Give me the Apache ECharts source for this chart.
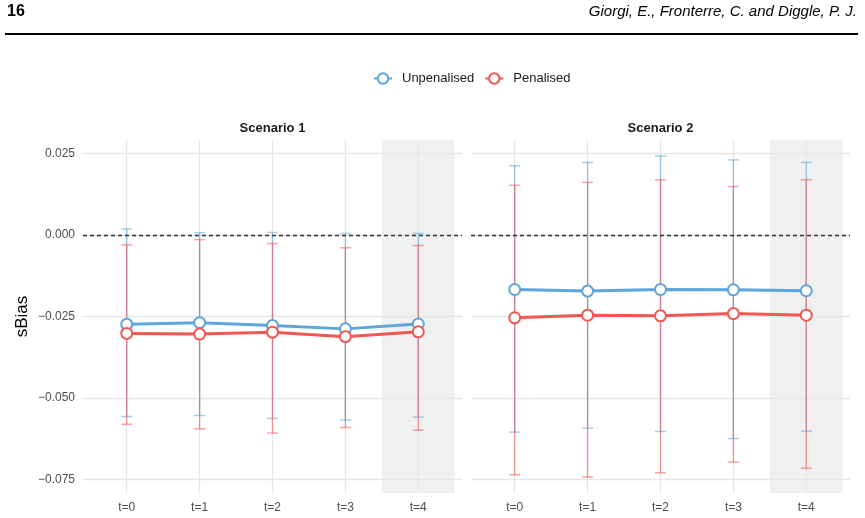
<!DOCTYPE html>
<html>
<head>
<meta charset="utf-8">
<script src="https://cdn.jsdelivr.net/npm/echarts@6/dist/echarts.min.js"></script>
<style>
  html, body { margin: 0; padding: 0; background: #fff; }
  #main { width: 865px; height: 518px; }
</style>
</head>
<body>
<div id="main"></div>
<script>
const categories = ['t=0', 't=1', 't=2', 't=3', 't=4'];
const xTicks = [0, 1, 2, 3, 4];
const yTicks = [-0.075, -0.05, -0.025, 0, 0.025];

// Scenario 1
const s1Unpen = [-0.0274, -0.0269, -0.0278, -0.0288, -0.0273];
const s1UnpenLow = [-0.0557, -0.0554, -0.0563, -0.0568, -0.0559];
const s1UnpenHigh = [0.0019, 0.0007, 0.0008, 0.0005, 0.0005];
const s1Pen = [-0.0302, -0.0304, -0.0298, -0.0312, -0.0297];
const s1PenLow = [-0.0581, -0.0595, -0.0608, -0.0591, -0.0599];
const s1PenHigh = [-0.0030, -0.0014, -0.0026, -0.0039, -0.0032];

// Scenario 2
const s2Unpen = [-0.0167, -0.0172, -0.0167, -0.0168, -0.0171];
const s2UnpenLow = [-0.0605, -0.0593, -0.0603, -0.0625, -0.0602];
const s2UnpenHigh = [0.0213, 0.0223, 0.0243, 0.0231, 0.0223];
const s2Pen = [-0.0254, -0.0246, -0.0248, -0.0241, -0.0246];
const s2PenLow = [-0.0736, -0.0743, -0.0730, -0.0697, -0.0716];
const s2PenHigh = [0.0153, 0.0162, 0.0170, 0.0149, 0.0170];

const blue = '#5DA5DA';
const red = '#F15854';
const font = '"Liberation Sans", Arial, sans-serif';

const chart = echarts.init(document.getElementById('main'));

// 误差棒：竖线 + 上下横帽
function errorBar(color) {
  return function (params, api) {
    const idx = api.value(0);
    const lo = api.coord([idx, api.value(1)]);
    const hi = api.coord([idx, api.value(2)]);
    const half = 5.5;
    return {
      type: 'group',
      children: [
        { type: 'line', shape: { x1: lo[0], y1: lo[1], x2: hi[0], y2: hi[1] },
          style: { stroke: color, lineWidth: 1.3, opacity: 0.6 } },
        { type: 'line', shape: { x1: lo[0] - half, y1: lo[1], x2: lo[0] + half, y2: lo[1] },
          style: { stroke: color, lineWidth: 1.5, opacity: 0.55 } },
        { type: 'line', shape: { x1: hi[0] - half, y1: hi[1], x2: hi[0] + half, y2: hi[1] },
          style: { stroke: color, lineWidth: 1.5, opacity: 0.55 } }
      ]
    };
  };
}

// t=4 的灰色背景带
function band(params, api) {
  const c = api.coord([api.value(0), 0]);
  const w = api.size([1, 0])[0];
  return {
    type: 'rect',
    shape: { x: c[0] - w / 2, y: params.coordSys.y, width: w, height: params.coordSys.height },
    style: { fill: '#f0f0f0' }
  };
}

function barData(low, high) {
  return low.map((v, i) => [i, v, high[i]]);
}

function pts(values) {
  return values.map((v, i) => [i, v]);
}

function panelSeries(g, unpen, unpenLow, unpenHigh, pen, penLow, penHigh) {
  return [
    {
      type: 'custom', xAxisIndex: g, yAxisIndex: g, z: -1, silent: true,
      renderItem: band, data: [[4]]
    },
    {
      type: 'custom', xAxisIndex: g, yAxisIndex: g, z: 2, silent: true,
      renderItem: errorBar(blue), encode: { x: 0, y: [1, 2] },
      data: barData(unpenLow, unpenHigh),
      markLine: {
        silent: true, symbol: 'none', label: { show: false },
        lineStyle: { color: '#333', width: 1.4, type: [4, 3] },
        data: [{ yAxis: 0 }]
      }
    },
    {
      type: 'custom', xAxisIndex: g, yAxisIndex: g, z: 3, silent: true,
      renderItem: errorBar(red), encode: { x: 0, y: [1, 2] },
      data: barData(penLow, penHigh)
    },
    {
      name: 'Unpenalised', type: 'line', xAxisIndex: g, yAxisIndex: g, z: 4,
      symbol: 'emptyCircle', symbolSize: 11,
      itemStyle: { color: blue, borderWidth: 2 },
      lineStyle: { color: blue, width: 3 },
      data: pts(unpen)
    },
    {
      name: 'Penalised', type: 'line', xAxisIndex: g, yAxisIndex: g, z: 5,
      symbol: 'emptyCircle', symbolSize: 11,
      itemStyle: { color: red, borderWidth: 2 },
      lineStyle: { color: red, width: 3 },
      data: pts(pen)
    }
  ];
}

const gridLefts = [83, 471];

const option = {
  animation: false,
  backgroundColor: '#fff',
  textStyle: { fontFamily: font },
  legend: {
    data: ['Unpenalised', 'Penalised'],
    top: 67, left: 368,
    itemWidth: 18, itemHeight: 13, itemGap: 10,
    textStyle: { fontSize: 13, color: '#1a1a1a', fontFamily: font, padding: [0, 0, 0, 5] }
  },
  grid: gridLefts.map(l => ({ left: l, top: 140, width: 379, height: 353 })),
  xAxis: [0, 1].map(g => ({
    type: 'value', gridIndex: g, min: -0.6, max: 4.6,
    axisLine: { show: false },
    axisTick: { show: false, customValues: xTicks },
    splitLine: { show: true, lineStyle: { color: '#e6e6e6', width: 1.3 } },
    axisLabel: {
      customValues: xTicks, color: '#4d4d4d', fontSize: 12, margin: 9, fontFamily: font,
      formatter: v => categories[Math.round(v)]
    }
  })),
  yAxis: [0, 1].map(g => ({
    type: 'value', gridIndex: g, min: -0.0792, max: 0.0292,
    name: g === 0 ? 'sBias' : '',
    nameLocation: 'middle', nameGap: 52,
    nameTextStyle: { fontSize: 17, color: '#000', fontFamily: font },
    axisLine: { show: false },
    axisTick: { show: false, customValues: yTicks },
    axisLabel: {
      show: g === 0, customValues: yTicks, color: '#4d4d4d', fontSize: 12, margin: 8,
      fontFamily: font,
      formatter: v => v.toFixed(3).replace('-', '\u2212')
    },
    splitLine: { show: true, lineStyle: { color: '#e6e6e6', width: 1.3 } }
  })),
  graphic: [
    { type: 'text', x: 7, y: 4, style: { text: '16', font: 'bold 16px ' + font, fill: '#000' } },
    { type: 'text', x: 857, y: 4,
      style: { text: 'Giorgi, E., Fronterre, C. and Diggle, P. J.', font: 'italic 15px ' + font,
               fill: '#000', align: 'right' } },
    { type: 'rect', shape: { x: 5, y: 33, width: 853, height: 2 }, style: { fill: '#000' } },
    { type: 'text', x: 83 + 379 / 2, y: 128,
      style: { text: 'Scenario 1', font: 'bold 13px ' + font, fill: '#1a1a1a',
               align: 'center', verticalAlign: 'middle' } },
    { type: 'text', x: 471 + 379 / 2, y: 128,
      style: { text: 'Scenario 2', font: 'bold 13px ' + font, fill: '#1a1a1a',
               align: 'center', verticalAlign: 'middle' } }
  ],
  series: [
    ...panelSeries(0, s1Unpen, s1UnpenLow, s1UnpenHigh, s1Pen, s1PenLow, s1PenHigh),
    ...panelSeries(1, s2Unpen, s2UnpenLow, s2UnpenHigh, s2Pen, s2PenLow, s2PenHigh)
  ]
};

chart.setOption(option);
</script>
</body>
</html>
